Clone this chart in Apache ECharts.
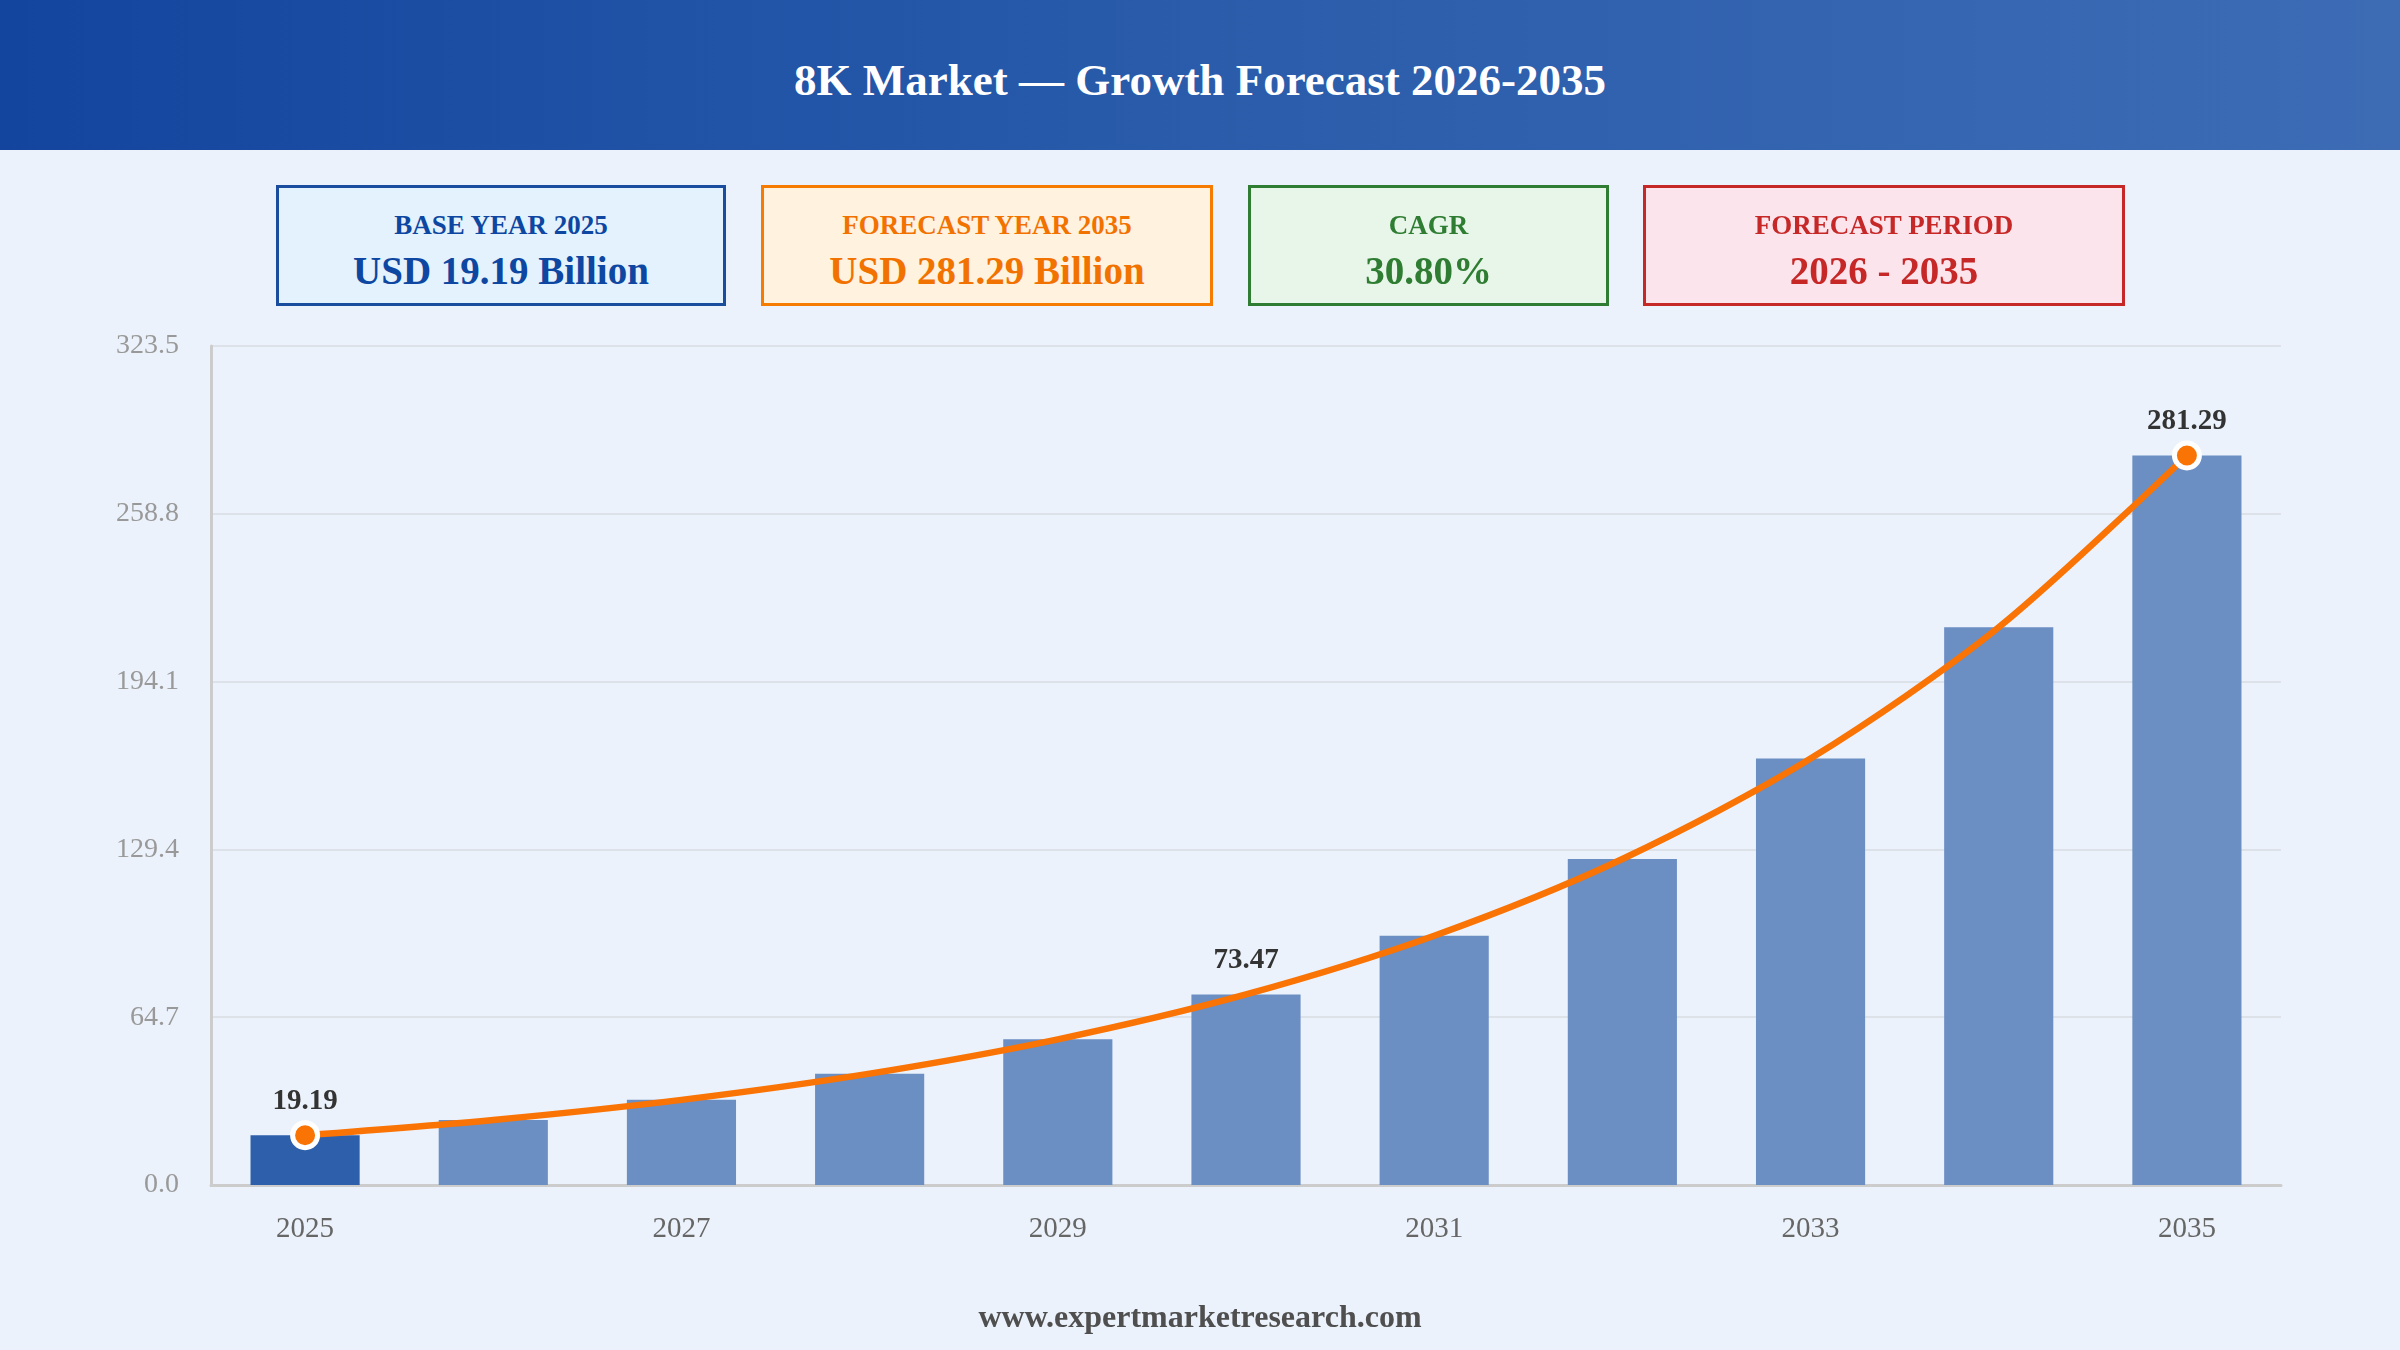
<!DOCTYPE html>
<html>
<head>
<meta charset="utf-8">
<script src="https://cdn.jsdelivr.net/npm/echarts@6/dist/echarts.min.js"></script>
<style>
  html, body { margin:0; padding:0; width:2400px; height:1350px; overflow:hidden; background:#ebf2fb; font-family:"Liberation Serif","DejaVu Serif",serif; }
  #chart { position:absolute; left:0; top:0; width:2400px; height:1350px; }
  #header { position:absolute; left:0; top:0; width:2400px; height:150px; background:linear-gradient(90deg,#13459f 0%,#2a5cab 50%,#3d6cb5 100%); }
  .t { position:absolute; left:0; width:100%; text-align:center; font-weight:bold; white-space:nowrap; }
  .box { position:absolute; top:185px; height:121px; box-sizing:border-box; border:3px solid; }
  .box .lab { position:absolute; left:0; width:100%; text-align:center; font-weight:bold; font-size:27px; height:27px; line-height:27px; top:24px; white-space:nowrap; }
  .box .val { position:absolute; left:0; width:100%; text-align:center; font-weight:bold; font-size:39px; height:39px; line-height:39px; top:63px; white-space:nowrap; }
</style>
</head>
<body>
<div id="chart"></div>
<div id="header"><div class="t" style="color:#fff;font-size:45px;height:45px;line-height:45px;top:58px;">8K Market — Growth Forecast 2026-2035</div></div>
<div class="box" style="left:276px;width:450px;background:#e3f2fd;border-color:#1a4d9e;color:#0d47a1;"><div class="lab">BASE YEAR 2025</div><div class="val">USD 19.19 Billion</div></div>
<div class="box" style="left:761px;width:452px;background:#fff3e0;border-color:#f57c00;color:#f27200;"><div class="lab">FORECAST YEAR 2035</div><div class="val">USD 281.29 Billion</div></div>
<div class="box" style="left:1248px;width:361px;background:#e8f5e9;border-color:#2e7d32;color:#2e7d32;"><div class="lab">CAGR</div><div class="val">30.80%</div></div>
<div class="box" style="left:1643px;width:482px;background:#fce4ec;border-color:#c62828;color:#c62828;"><div class="lab">FORECAST PERIOD</div><div class="val">2026 - 2035</div></div>
<div class="t" style="color:#4f4f4f;font-size:32px;height:32px;line-height:32px;top:1300px;">www.expertmarketresearch.com</div>
<script>
const years = ['2025','2026','2027','2028','2029','2030','2031','2032','2033','2034','2035'];
const marketValues = [19.19, 25.10, 32.83, 42.94, 56.17, 73.47, 96.10, 125.70, 164.41, 215.05, 281.29];
const labeledYears = ['2025','2030','2035'];
const markerYears = ['2025','2035'];
const yMax = 323.5;
const yStep = 64.7;

const chart = echarts.init(document.getElementById('chart'));
const serif = 'Liberation Serif';
chart.setOption({
  backgroundColor: 'transparent',
  animation: false,
  grid: { left: 211, right: 119, top: 346, bottom: 165, containLabel: false },
  xAxis: {
    type: 'category',
    data: years,
    boundaryGap: true,
    axisLine: { show: true, lineStyle: { color: '#cccccc', width: 3 } },
    axisTick: { show: false },
    axisLabel: { interval: 1, color: '#666666', fontFamily: serif, fontSize: 29, margin: 30 },
    splitLine: { show: false }
  },
  yAxis: {
    type: 'value',
    min: 0,
    max: yMax,
    interval: yStep,
    axisLine: { show: true, lineStyle: { color: '#cccccc', width: 3 } },
    axisTick: { show: false },
    axisLabel: { color: '#999999', fontFamily: serif, fontSize: 28, margin: 32, formatter: v => v.toFixed(1) },
    splitLine: { show: true, lineStyle: { color: '#dde2e8', width: 2 } }
  },
  series: [
    {
      type: 'bar',
      barWidth: '58%',
      data: marketValues.map((v, i) => ({
        value: v,
        itemStyle: { color: i === 0 ? '#2e5fab' : '#6b8ec3' },
        label: {
          show: labeledYears.includes(years[i]),
          position: 'top',
          distance: 19,
          formatter: p => p.value.toFixed(2),
          color: '#333333',
          fontFamily: serif,
          fontWeight: 'bold',
          fontSize: 29
        }
      })),
      z: 2
    },
    {
      type: 'line',
      smooth: 0.3,
      showAllSymbol: true,
      symbolSize: 25,
      lineStyle: { color: '#fa7305', width: 6.5 },
      itemStyle: { color: '#fa7305', borderColor: '#ffffff', borderWidth: 5 },
      data: marketValues.map((v, i) => ({
        value: v,
        symbol: markerYears.includes(years[i]) ? 'circle' : 'none'
      })),
      z: 3
    }
  ]
});
</script>
</body>
</html>
